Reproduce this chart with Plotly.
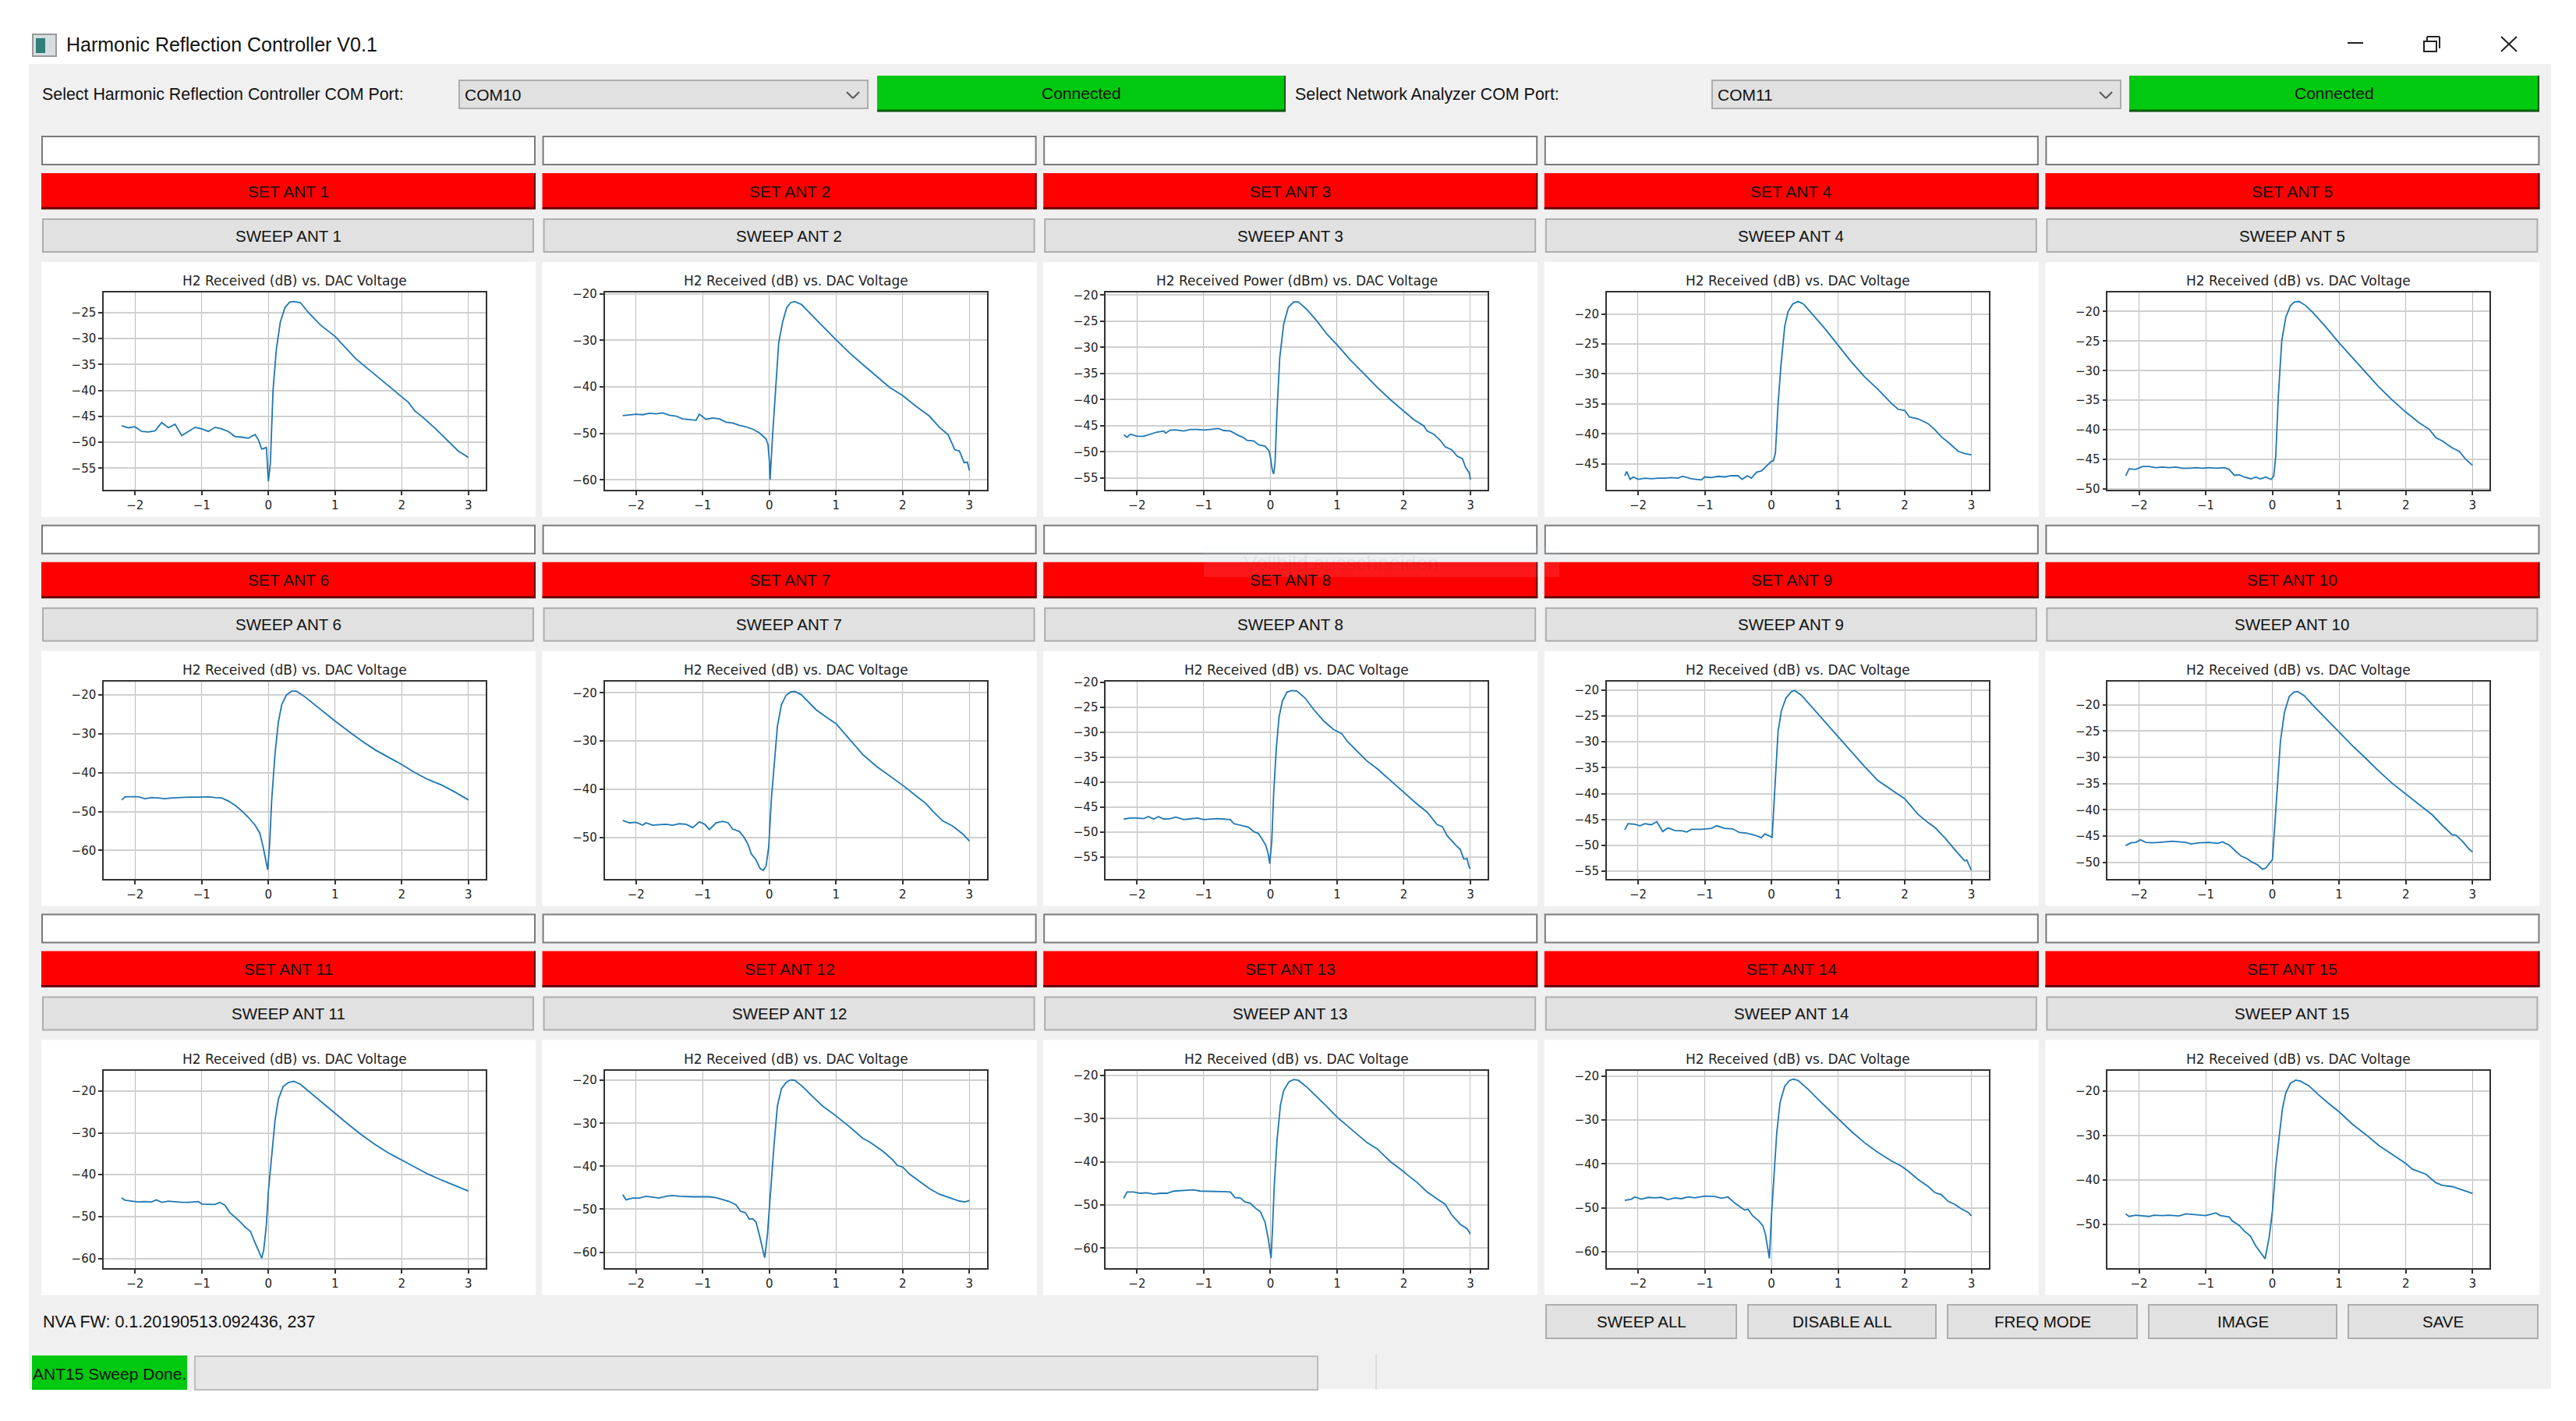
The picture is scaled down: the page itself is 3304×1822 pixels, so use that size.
import plotly.graph_objects as go

W, H = 3304, 1822

X1 = [-2.2,-2.1,-2.0,-1.9,-1.8,-1.7,-1.6,-1.5,-1.4,-1.3,-1.2,-1.1,-1.0,-.9,-.8,-.7,-.6,-.5,-.4,-.3,-.2,-.15,-.1,-.03,0,.03,.07,.12,.18,.25,.32,.38,.48,.6,.78,1,1.31,1.6,1.89,2.1,2.2,2.3,2.5,2.71,2.85,3]
Y1 = [-46.8,-47.2,-47,-47.9,-48,-47.8,-46.2,-47.2,-46.5,-48.7,-47.9,-47.1,-47.4,-47.9,-47.1,-47.4,-47.9,-48.9,-49,-49.2,-48.5,-49.5,-51.3,-51,-57.5,-54,-40,-32,-26.8,-24,-23,-22.9,-23.1,-25,-27.4,-29.6,-33.9,-37,-40,-42.3,-44,-45,-47.3,-50,-51.7,-52.9]
X2 = [-2.2,-2.1,-2,-1.9,-1.8,-1.7,-1.6,-1.5,-1.4,-1.3,-1.2,-1.1,-1.05,-.95,-.85,-.75,-.65,-.55,-.45,-.35,-.25,-.15,-.05,-.02,0,.01,.05,.1,.14,.2,.26,.32,.38,.48,.6,.8,1,1.2,1.4,1.6,1.8,2,2.2,2.4,2.55,2.68,2.78,2.85,2.92,2.97,3]
Y2 = [-46.2,-46,-45.9,-46,-45.7,-45.8,-45.6,-46.1,-46.3,-46.9,-47,-47.2,-45.9,-47,-46.7,-46.9,-47.6,-47.8,-48.3,-48.6,-49.1,-49.9,-51.2,-52.5,-56,-60,-50,-38,-30.5,-26,-23,-21.9,-21.7,-22.3,-24,-27,-29.9,-32.7,-35.2,-37.6,-40.1,-41.9,-44.2,-46.3,-48.7,-50.3,-53.5,-53.8,-56.3,-56.2,-58]
X3 = [-2.2,-2.15,-2.1,-2,-1.9,-1.8,-1.7,-1.6,-1.57,-1.5,-1.4,-1.3,-1.2,-1.1,-1,-.9,-.78,-.7,-.6,-.5,-.4,-.35,-.25,-.18,-.08,-.02,0,.03,.05,.07,.1,.14,.2,.27,.35,.42,.55,.7,.85,1,1.2,1.4,1.6,1.8,2,2.15,2.3,2.35,2.45,2.55,2.62,2.72,2.8,2.88,2.93,2.98,3]
Y3 = [-46.7,-47.2,-46.6,-47,-47,-46.6,-46.2,-46,-46.4,-45.8,-45.8,-46,-45.7,-45.7,-45.8,-45.7,-45.5,-45.9,-46,-46.7,-47.3,-47.8,-47.9,-48.6,-48.9,-49.8,-51,-53.6,-54.2,-52,-42,-32,-25.5,-22.3,-21.3,-21.3,-22.8,-25,-27.5,-29.5,-32.4,-35,-37.6,-40,-42.2,-43.8,-45,-46,-46.6,-47.8,-49,-49.6,-50.8,-51.3,-53,-53.9,-55.3]
X4 = [-2.2,-2.17,-2.12,-2.07,-2,-1.9,-1.8,-1.7,-1.6,-1.5,-1.4,-1.33,-1.2,-1.05,-1,-.9,-.8,-.7,-.6,-.5,-.44,-.36,-.3,-.22,-.15,-.07,0,.03,.06,.1,.14,.2,.25,.32,.4,.48,.6,.8,1,1.2,1.4,1.6,1.8,1.9,2,2.07,2.2,2.35,2.45,2.55,2.65,2.8,2.9,3]
Y4 = [-47,-46.3,-47.6,-47.2,-47.6,-47.4,-47.5,-47.4,-47.4,-47.3,-47.4,-47.1,-47.5,-47.7,-47.2,-47.3,-47.1,-47.2,-47,-47,-47.6,-47,-47.4,-46.4,-46.2,-45.3,-44.6,-44.5,-43.2,-35,-29,-22,-19.6,-18.3,-17.9,-18.3,-19.8,-22.4,-25.2,-28,-30.5,-32.6,-34.9,-35.9,-36.1,-37.2,-37.5,-38.3,-39.3,-40.5,-41.4,-42.9,-43.3,-43.5]
X5 = [-2.2,-2.15,-2.05,-1.95,-1.85,-1.75,-1.65,-1.55,-1.45,-1.35,-1.25,-1.15,-1.05,-.95,-.85,-.72,-.65,-.57,-.5,-.42,-.32,-.25,-.18,-.1,-.02,.02,.05,.09,.14,.2,.27,.33,.4,.5,.6,.8,1,1.2,1.4,1.6,1.8,2,2.2,2.35,2.45,2.55,2.7,2.8,2.9,3]
Y5 = [-47.8,-46.6,-46.7,-46.2,-46.2,-46.4,-46.3,-46.4,-46.3,-46.5,-46.5,-46.4,-46.5,-46.4,-46.5,-46.4,-46.7,-47.7,-47.6,-48,-48.3,-48,-48.3,-48,-48.4,-47.8,-44.5,-34,-25,-21,-19,-18.4,-18.3,-19,-20.1,-22.6,-25.3,-27.8,-30.4,-32.8,-35,-37,-38.8,-39.9,-41.3,-41.9,-43.1,-43.6,-45,-46]
X6 = [-2.2,-2.15,-2.05,-1.95,-1.85,-1.75,-1.65,-1.55,-1.45,-1.35,-1.2,-1.05,-.9,-.8,-.7,-.6,-.5,-.4,-.3,-.2,-.13,-.08,-.03,-.01,.02,.05,.1,.15,.2,.27,.35,.42,.55,.7,.85,1,1.2,1.4,1.6,1.8,2,2.2,2.4,2.6,2.8,3]
Y6 = [-47,-46.2,-46.2,-46.2,-46.7,-46.4,-46.5,-46.7,-46.5,-46.4,-46.3,-46.3,-46.2,-46.4,-46.5,-47.3,-48.4,-49.8,-51.5,-53.5,-55.5,-59,-63,-65,-58,-47,-35,-27,-22.5,-20,-19,-19,-20.5,-22.6,-24.7,-26.7,-29.3,-31.8,-34.1,-36,-37.9,-40,-41.8,-43.2,-45,-47]
X7 = [-2.2,-2.1,-2,-1.9,-1.85,-1.75,-1.65,-1.55,-1.45,-1.35,-1.25,-1.15,-1.05,-.97,-.9,-.8,-.7,-.62,-.55,-.45,-.38,-.32,-.27,-.2,-.14,-.09,-.05,-.01,.03,.07,.12,.18,.25,.32,.38,.48,.6,.7,.85,1,1.2,1.4,1.6,1.8,2,2.2,2.35,2.45,2.6,2.75,2.9,3]
Y7 = [-46.5,-47,-46.9,-47.5,-47,-47.5,-47.4,-47.3,-47.5,-47.2,-47.3,-48,-46.8,-47.3,-48.4,-47,-46.7,-47,-48.3,-48.8,-50,-51.5,-53.5,-54.7,-56.5,-56.9,-56,-52,-42,-35,-27,-22.5,-20.5,-19.8,-19.7,-20.4,-22,-23.5,-25,-26.4,-29.6,-32.8,-35.2,-37.2,-39.2,-41.4,-43,-44.6,-46.6,-47.7,-49.3,-50.8]
X8 = [-2.2,-2.1,-2,-1.9,-1.83,-1.75,-1.68,-1.6,-1.5,-1.42,-1.3,-1.2,-1.1,-1,-.9,-.8,-.7,-.6,-.55,-.45,-.33,-.25,-.18,-.12,-.07,-.03,-.01,.02,.05,.09,.13,.18,.25,.32,.4,.52,.65,.8,.95,1.07,1.15,1.3,1.45,1.6,1.8,2,2.2,2.35,2.5,2.58,2.65,2.78,2.85,2.9,2.95,2.98,3]
Y8 = [-47.4,-47.2,-47.2,-47.3,-46.9,-47.4,-46.9,-47.4,-47.3,-47,-47.5,-47.4,-47.2,-47.5,-47.4,-47.3,-47.4,-47.5,-48.3,-48.6,-49,-49.9,-50.3,-51.5,-52.6,-54.5,-56.3,-52,-42,-33,-27,-23.8,-22,-21.7,-21.8,-23.2,-25.5,-27.8,-29.5,-30.3,-31.8,-33.8,-35.8,-37.3,-39.7,-42,-44.4,-46,-48.5,-48.9,-50.7,-52.6,-53.5,-55.4,-55.3,-57,-57.3]
X9 = [-2.2,-2.15,-2.05,-1.97,-1.9,-1.8,-1.72,-1.63,-1.55,-1.45,-1.33,-1.27,-1.2,-1.05,-.9,-.82,-.7,-.58,-.48,-.38,-.25,-.15,-.1,-.02,.01,.03,.06,.1,.15,.22,.3,.35,.45,.6,.8,1,1.2,1.4,1.6,1.8,2,2.2,2.35,2.45,2.6,2.75,2.9,2.93,3]
Y9 = [-47,-45.8,-45.9,-46.2,-45.8,-46,-45.4,-47.3,-46.6,-47.1,-47.2,-47.4,-46.9,-46.9,-46.7,-46.2,-46.7,-46.8,-47.5,-47.6,-48,-48.5,-47.8,-48.2,-48.5,-44,-37,-28,-24,-21.5,-20.3,-20.1,-21,-23.2,-26,-29,-32,-34.8,-37.5,-39.3,-41,-44,-45.6,-46.5,-48.5,-50.8,-53,-52.8,-54.8]
X10 = [-2.2,-2.12,-2.05,-1.98,-1.9,-1.8,-1.7,-1.6,-1.5,-1.4,-1.3,-1.22,-1.1,-.95,-.82,-.75,-.65,-.55,-.47,-.38,-.3,-.22,-.15,-.1,-.03,0,.03,.07,.12,.18,.25,.32,.38,.48,.6,.8,1,1.2,1.4,1.6,1.8,2,2.2,2.4,2.55,2.7,2.75,2.85,2.95,3]
Y10 = [-46.8,-46.3,-46.2,-45.7,-46.2,-46.3,-46.2,-46.1,-46,-46.1,-46.2,-46.5,-46.3,-46.2,-46.4,-46.1,-46.7,-47.9,-48.8,-49.3,-50,-50.5,-51.3,-51.1,-50,-49.5,-44,-36,-27,-21.5,-18.5,-17.6,-17.5,-18.3,-20,-22.6,-25.2,-27.8,-30.2,-32.7,-35,-37,-39,-41,-43,-44.8,-44.8,-46,-47.5,-48]
X11 = [-2.2,-2.15,-2.05,-1.95,-1.85,-1.75,-1.68,-1.6,-1.5,-1.4,-1.3,-1.2,-1.05,-1,-.9,-.8,-.73,-.65,-.58,-.5,-.42,-.35,-.27,-.22,-.15,-.1,-.07,-.03,0,.05,.1,.15,.22,.3,.38,.48,.6,.8,1,1.2,1.4,1.6,1.8,2,2.2,2.4,2.6,2.8,3]
Y11 = [-45.5,-46.1,-46.3,-46.5,-46.4,-46.5,-46,-46.6,-46.3,-46.5,-46.6,-46.6,-46.4,-47,-47,-47.1,-46.6,-47.3,-49,-50.1,-51.3,-52.5,-53.5,-55.5,-58,-59.9,-58,-52,-44,-36,-27,-22,-19,-18,-17.7,-18.4,-20,-22.8,-25.3,-28,-30.5,-32.8,-34.8,-36.5,-38.2,-39.9,-41.3,-42.6,-43.9]
X12 = [-2.2,-2.15,-2.05,-1.95,-1.85,-1.75,-1.65,-1.55,-1.45,-1.35,-1.25,-1.15,-1,-.9,-.8,-.7,-.6,-.5,-.43,-.36,-.3,-.25,-.2,-.15,-.1,-.07,-.03,.02,.07,.12,.18,.25,.32,.38,.5,.65,.8,1,1.2,1.4,1.5,1.7,1.85,1.92,2,2.1,2.25,2.4,2.55,2.7,2.85,2.93,3]
Y12 = [-46.6,-47.8,-47.4,-47.4,-47,-47.2,-47.4,-47,-46.8,-47,-47.1,-47.1,-47.1,-47.1,-47.3,-47.7,-48.2,-49,-50.5,-50.8,-52.3,-52.2,-53,-56,-59,-61.3,-56,-45,-35,-26,-22,-20.5,-19.9,-20,-21.5,-23.8,-26,-28.3,-30.8,-33.5,-34.3,-36.5,-38.5,-39.8,-40.2,-41.8,-43.5,-45.2,-46.5,-47.3,-48.1,-48.3,-48]
X13 = [-2.2,-2.15,-2.05,-1.95,-1.85,-1.75,-1.65,-1.55,-1.45,-1.35,-1.25,-1.15,-1.05,-.9,-.7,-.6,-.53,-.45,-.38,-.3,-.22,-.15,-.08,-.03,.01,.03,.06,.1,.15,.2,.28,.35,.42,.55,.7,.85,1,1.1,1.3,1.45,1.6,1.8,2,2.05,2.2,2.35,2.5,2.62,2.72,2.85,2.95,3]
Y13 = [-48.5,-47,-47,-47.3,-47.2,-47.5,-47.3,-47.3,-46.8,-46.7,-46.5,-46.5,-46.8,-46.8,-46.9,-47,-48.3,-48.4,-49.3,-49.6,-50.8,-51.6,-54,-58,-62.3,-56,-45,-35,-27,-23.5,-21.5,-21,-21.2,-22.8,-25,-27.3,-29.7,-31,-33.5,-35.6,-37,-40,-42.3,-43,-44.8,-47,-48.6,-49.8,-52.3,-54.5,-55.5,-56.7]
X14 = [-2.2,-2.1,-2.05,-1.95,-1.85,-1.75,-1.65,-1.55,-1.45,-1.35,-1.25,-1.15,-1,-.85,-.75,-.65,-.55,-.47,-.4,-.35,-.28,-.2,-.13,-.09,-.06,-.03,0,.04,.08,.13,.2,.27,.33,.4,.55,.7,.85,1,1.2,1.4,1.6,1.8,1.95,2.05,2.2,2.35,2.45,2.55,2.65,2.75,2.85,2.95,3]
Y14 = [-48.3,-48,-47.5,-48,-47.6,-47.7,-47.6,-48.1,-47.7,-47.9,-47.5,-47.7,-47.3,-47.4,-47.8,-47.5,-48.9,-49.7,-50.5,-50.3,-51.8,-52.8,-54,-56,-59,-61.5,-52,-42,-33,-26,-22.3,-21,-20.7,-21,-23,-25.3,-27.5,-29.8,-32.6,-35.2,-37.4,-39.3,-40.5,-41.6,-43.5,-45.1,-46.5,-47,-48.5,-49.2,-50.2,-51,-51.8]
X15 = [-2.2,-2.15,-2.05,-1.95,-1.85,-1.78,-1.65,-1.55,-1.4,-1.3,-1.2,-1.1,-1,-.9,-.85,-.78,-.65,-.6,-.5,-.42,-.33,-.25,-.17,-.11,-.05,0,.05,.1,.15,.2,.27,.35,.42,.55,.7,.85,1,1.2,1.4,1.6,1.75,1.9,2,2.1,2.2,2.3,2.45,2.55,2.7,2.85,3]
Y15 = [-47.6,-48.2,-47.9,-48.1,-48.2,-47.9,-48,-47.9,-48.1,-47.6,-47.7,-47.8,-48,-47.6,-47.4,-48,-48.3,-49.2,-50.2,-51.5,-52.6,-54.8,-56.4,-57.7,-53,-47,-37,-30,-24,-20.5,-18.3,-17.6,-17.8,-18.9,-21,-22.9,-24.7,-27.5,-29.8,-32.3,-33.8,-35.3,-36.3,-37.6,-38.2,-38.7,-40.6,-41.2,-41.5,-42.2,-43]

SERIES_X = [X1,X2,X3,X4,X5,X6,X7,X8,X9,X10,X11,X12,X13,X14,X15]
SERIES_Y = [Y1,Y2,Y3,Y4,Y5,Y6,Y7,Y8,Y9,Y10,Y11,Y12,Y13,Y14,Y15]
Y_RANGES = [(-59.2,-21.2),(-62.2,-19.8),(-57.3,-19.55),(-49.4,-16.44),(-50.2,-16.83),
            (-67.4,-16.6),(-58.7,-17.7),(-59.4,-19.95),(-56.5,-18.4),(-53.2,-15.64),
            (-62.3,-15.2),(-63.7,-17.8),(-64.6,-19),(-63.7,-18.8),(-59.8,-15.5)]
Y_STEPS = [5,10,5,5,5,10,10,5,5,5,10,10,10,10,10]
X_RANGE = (-2.47,3.26)
CHART_TITLES = ["H2 Received (dB) vs. DAC Voltage"]*15
CHART_TITLES[2] = "H2 Received Power (dBm) vs. DAC Voltage"

LINE = "#1f77b4"
UI_FONT = "Liberation Sans"
PLOT_FONT = "DejaVu Sans"

shapes, ann = [], []
def fx(p): return p / W
def fy(p): return 1 - p / H

def rect(x0, y0, x1, y1, fill, line=None, lw=0, opacity=1, layer="below"):
    shapes.append(dict(type="rect", xref="paper", yref="paper", x0=fx(x0), x1=fx(x1), y0=fy(y1), y1=fy(y0),
                       fillcolor=fill, opacity=opacity, layer=layer,
                       line=dict(color=line or fill, width=lw)))
def seg(x0, y0, x1, y1, color, lw=2, layer="below"):
    shapes.append(dict(type="line", xref="paper", yref="paper", x0=fx(x0), x1=fx(x1), y0=fy(y0), y1=fy(y1),
                       layer=layer, line=dict(color=color, width=lw)))
def text(x, y, s, size=21, anchor="center", color="#111111", font=UI_FONT, opacity=1):
    ann.append(dict(xref="paper", yref="paper", x=fx(x), y=fy(y), text=s, showarrow=False, xanchor=anchor,
                    yanchor="middle", opacity=opacity, font=dict(family=font, size=size, color=color)))

def button(x0, y0, x1, y1, label):
    rect(x0, y0, x1, y1, "#e1e1e1", "#adadad", 2)
    text((x0+x1)/2, (y0+y1)/2, label, 20.5)
def colored(x0, y0, x1, y1, fill, dark, label):
    rect(x0, y0, x1, y1, fill)
    seg(x0, y1-1, x1, y1-1, dark, 3)
    seg(x1-1, y0, x1-1, y1, dark, 2)
    text((x0+x1)/2, (y0+y1)/2, label)
def combo(x0, y0, x1, y1, label):
    rect(x0, y0, x1, y1, "#e1e1e1", "#adadad", 2)
    text(x0+5, (y0+y1)/2, label, anchor="left")
    seg(x1-27, y0+15, x1-19, y0+23, "#555555", 2)
    seg(x1-19, y0+23, x1-11, y0+15, "#555555", 2)

# window
rect(37, 82, 3272, 1781, "#f0f0f0")
# title bar
rect(42, 44, 72, 72, "#d8dde0", "#9a9a9a", 2)
rect(46, 49, 58, 68, "#2f7f7a")
text(83, 57, "Harmonic Reflection Controller V0.1", 25, "left")
seg(3011, 55, 3031, 55, "#222222", 2)
rect(3109, 53, 3125, 66, "#ffffff", "#222222", 2)
seg(3113, 47, 3129, 47, "#222222", 2); seg(3129, 47, 3129, 62, "#222222", 2); seg(3113, 47, 3113, 53, "#222222", 2)
seg(3208, 47, 3228, 66, "#222222", 2); seg(3228, 47, 3208, 66, "#222222", 2)
# top row
text(52, 121, "Select Harmonic Reflection Controller COM Port:", 21.4, "left")
combo(589, 103, 1113, 139, "COM10")
colored(1125, 97, 1649, 143, "#00c90f", "#005a08", "Connected")
text(1659, 121, "Select Network Analyzer COM Port:", 21.4, "left")
combo(2196, 103, 2720, 139, "COM11")
colored(2731, 97, 3257, 143, "#00c90f", "#005a08", "Connected")

data = []
layout_axes = {}
COL_PITCH, ROW_PITCH = 642.6, 498.8
for i in range(15):
    r, c = i // 5, i % 5
    n = i + 1
    dx, dy = c * COL_PITCH, r * ROW_PITCH
    L = 53 + dx; R = 687 + dx
    rect(L+1, 175+dy, R-1, 211+dy, "#ffffff", "#7a7a7a", 2)
    colored(L, 222+dy, R, 268+dy, "#ff0000", "#6a0000", f"SET ANT {n}")
    button(L+2, 281+dy, R-3, 323+dy, f"SWEEP ANT {n}")
    rect(L, 336+dy, R, 663+dy, "#ffffff")
    ax0, ax1 = 133 + dx, 623 + dx
    ay0, ay1 = 375.4 + dy, 628.4 + dy
    text((ax0+ax1)/2, ay0-15, CHART_TITLES[i], 17, font=PLOT_FONT, color="#222222")
    sfx = "" if i == 0 else str(n)
    data.append(go.Scatter(x=SERIES_X[i], y=SERIES_Y[i], mode="lines", xaxis=f"x{sfx}", yaxis=f"y{sfx}",
                           line=dict(color=LINE, width=1.8), showlegend=False, hoverinfo="skip"))
    axcommon = dict(showline=True, mirror=True, linecolor="#333333", ticks="outside", ticklen=5,
                    tickwidth=1.5, tickcolor="#333333", zeroline=False, automargin=False,
                    tickfont=dict(family=PLOT_FONT, size=15, color="#222222"))
    layout_axes[f"xaxis{sfx}"] = dict(domain=[fx(ax0), fx(ax1)], range=list(X_RANGE), anchor=f"y{sfx}", linewidth=2,
                                      tick0=0, dtick=1, showgrid=True, gridcolor="#bbbbbb", gridwidth=1, **axcommon)
    layout_axes[f"yaxis{sfx}"] = dict(domain=[fy(ay1), fy(ay0)], range=list(Y_RANGES[i]), anchor=f"x{sfx}", linewidth=1.5,
                                      tick0=0, dtick=Y_STEPS[i], showgrid=True, gridcolor="#d0d0d0", gridwidth=2, **axcommon)

# bottom
text(53, 1695, "NVA FW: 0.1.20190513.092436, 237", 21.5, "left")
for x0, x1, lab in [(1983,2227,"SWEEP ALL"),(2242,2483,"DISABLE ALL"),(2498,2741,"FREQ MODE"),(2756,2997,"IMAGE"),(3012,3255,"SAVE")]:
    button(x0, 1673, x1, 1716, lab)
rect(41, 1738, 240, 1782, "#00c90f")
text(140, 1761, "ANT15 Sweep Done.", 21)
rect(250, 1739, 1690, 1782, "#e6e6e6", "#bcbcbc", 2)
seg(1765, 1736, 1765, 1782, "#d9d9d9", 1.5)
# fading screen-capture hint
rect(1544, 700, 2000, 740, "#e6eef8", opacity=0.10, layer="above")
text(1720, 722, "Vollbild ausschneiden", 26, opacity=0.06)

fig = go.Figure(data=data)
fig.update_layout(width=W, height=H, margin=dict(l=0, r=0, t=0, b=0), paper_bgcolor="#ffffff", plot_bgcolor="#ffffff",
                  shapes=shapes, annotations=ann, showlegend=False, **layout_axes)
fig.write_html("out.html", config=dict(displayModeBar=False), post_script="document.body.style.margin='0';document.body.style.overflow='hidden';")
